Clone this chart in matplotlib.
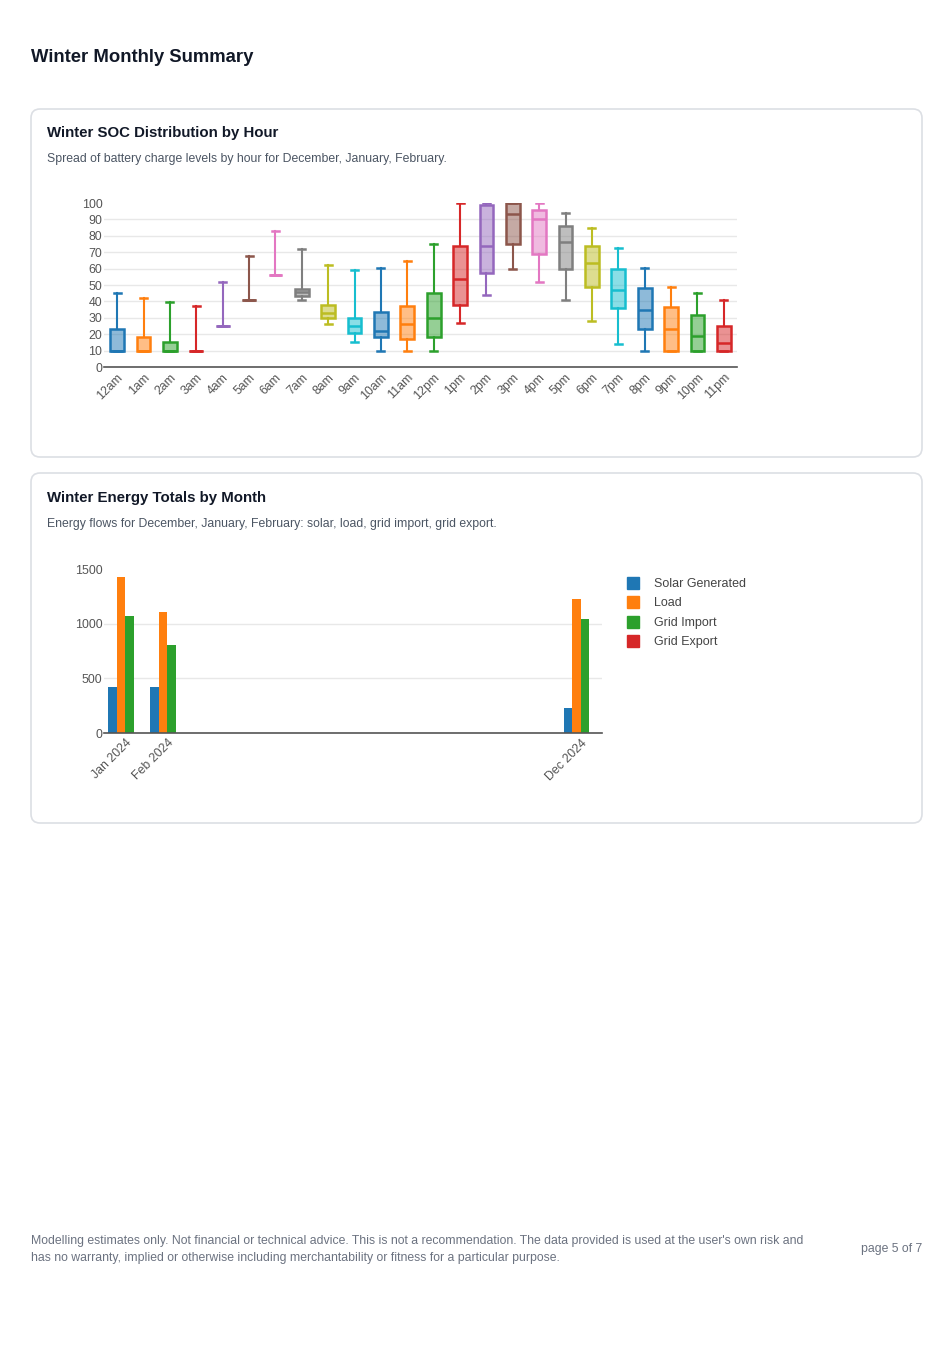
import matplotlib
matplotlib.use("Agg")
import matplotlib.pyplot as plt
import matplotlib.transforms as mtransforms
from matplotlib.patches import FancyBboxPatch
from matplotlib.lines import Line2D
import numpy as np

plt.rcParams["font.family"] = ["Liberation Sans", "DejaVu Sans"]

# --- SOC box plot data (winter, by hour) ---
hours = ["12am", "1am", "2am", "3am", "4am", "5am", "6am", "7am", "8am", "9am",
         "10am", "11am", "12pm", "1pm", "2pm", "3pm", "4pm", "5pm", "6pm", "7pm",
         "8pm", "9pm", "10pm", "11pm"]
soc_min = [10, 10, 10, 10, 25, 41, 56, 41, 26, 15, 10, 10, 10, 27, 44, 60, 52, 41, 28, 14, 10, 10, 10, 10]
soc_q1 = [10, 10, 10, 10, 25, 41, 56, 43, 30, 21, 18.5, 17, 18, 38, 57.5, 75, 69, 59.5, 49, 36, 23, 10, 10, 10]
soc_med = [10, 10, 10, 10, 25, 41, 56, 45.5, 33, 25, 22, 26, 30, 53.5, 74, 93.5, 90, 76.5, 63.5, 47, 34.5, 23, 19, 14.5]
soc_q3 = [23, 18, 15, 10, 25, 41, 56, 47.5, 38, 30, 33.5, 37.5, 45, 73.5, 99, 100, 96, 86, 73.5, 60, 48, 36.5, 31.5, 25]
soc_max = [45, 42, 39.5, 37, 52, 67.5, 83, 72, 62, 59, 60.5, 64.5, 75, 100, 100, 100, 100, 94, 85, 72.5, 60.5, 49, 45, 41]

# --- Monthly energy totals ---
month_labels = ["Jan 2024", "Feb 2024", "Dec 2024"]
month_dates = ["2024-01-01", "2024-02-01", "2024-12-01"]
series_names = ["Solar Generated", "Load", "Grid Import", "Grid Export"]
solar = [420, 418, 229]
load = [1427, 1107, 1228]
grid_import = [1070, 802, 1040]
grid_export = [0, 4, 0]

tab10 = ["#1f77b4", "#ff7f0e", "#2ca02c", "#d62728", "#9467bd",
         "#8c564b", "#e377c2", "#7f7f7f", "#bcbd22", "#17becf"]

W, H = 952, 1348
fig = plt.figure(figsize=(W / 100, H / 100), dpi=100)
fig.patch.set_facecolor("white")
# pixel coordinates, origin top-left
px = mtransforms.Affine2D().scale(1 / 100, -1 / 100).translate(0, H / 100) + fig.dpi_scale_trans


def card(x0, y0, x1, y1):
    p = FancyBboxPatch((x0, y0), x1 - x0, y1 - y0, boxstyle="round,pad=0,rounding_size=9",
                       transform=px, facecolor="white", edgecolor="#dcdfe4", linewidth=1.2,
                       zorder=-1)
    fig.patches.append(p)


fig.text(31, 58, "Winter Monthly Summary", transform=px, fontsize=13.3, fontweight="bold",
         color="#111827", va="center", ha="left")

card(31, 109, 922, 457)
card(31, 473, 922, 823)

fig.text(47, 133, "Winter SOC Distribution by Hour", transform=px, fontsize=10.8,
         fontweight="bold", color="#111827", va="center")
fig.text(47, 159, "Spread of battery charge levels by hour for December, January, February.",
         transform=px, fontsize=8.85, color="#4b5563", va="center")
fig.text(47, 498, "Winter Energy Totals by Month", transform=px, fontsize=10.8,
         fontweight="bold", color="#111827", va="center")
fig.text(47, 524, "Energy flows for December, January, February: solar, load, grid import, grid export.",
         transform=px, fontsize=8.85, color="#4b5563", va="center")

fig.text(31, 1241, "Modelling estimates only. Not financial or technical advice. This is not a recommendation. "
         "The data provided is used at the user's own risk and", transform=px, fontsize=8.85,
         color="#6b7280", va="center")
fig.text(31, 1258, "has no warranty, implied or otherwise including merchantability or fitness for a particular purpose.",
         transform=px, fontsize=8.85, color="#6b7280", va="center")
fig.text(922, 1249, "page 5 of 7", transform=px, fontsize=8.85, color="#6b7280", va="center", ha="right")


def style_axes(ax):
    for s in ["top", "right", "left"]:
        ax.spines[s].set_visible(False)
    ax.spines["bottom"].set_color("#555555")
    ax.spines["bottom"].set_linewidth(1.2)
    ax.tick_params(axis="both", length=0, labelsize=8.9, labelcolor="#555555")
    ax.tick_params(axis="y", pad=1.2)
    ax.tick_params(axis="x", pad=3)
    ax.set_axisbelow(True)
    ax.yaxis.grid(True, color="#e8e8e8", linewidth=1)


# ---- box plot ----
ax1 = fig.add_axes([104 / W, 1 - 367 / H, 633 / W, 164 / H])
stats = []
for i in range(len(hours)):
    stats.append({"whislo": soc_min[i], "q1": soc_q1[i], "med": soc_med[i],
                  "q3": soc_q3[i], "whishi": soc_max[i], "label": hours[i]})
bp = ax1.bxp(stats, positions=np.arange(len(hours)), widths=0.52, capwidths=0.27,
             patch_artist=True, showfliers=False)
for i, box in enumerate(bp["boxes"]):
    c = tab10[i % 10]
    box.set_facecolor(matplotlib.colors.to_rgba(c, 0.5))
    box.set_edgecolor(c)
    box.set_linewidth(1.8)
    bp["medians"][i].set_color(c)
    bp["medians"][i].set_linewidth(1.8)
    for k in (2 * i, 2 * i + 1):
        bp["whiskers"][k].set_color(c)
        bp["whiskers"][k].set_linewidth(1.5)
        bp["caps"][k].set_color(c)
        bp["caps"][k].set_linewidth(1.8)
ax1.set_xlim(-0.5, len(hours) - 0.5)
ax1.set_ylim(0, 100)
ax1.set_yticks(np.arange(0, 101, 10))
ax1.set_xticks(np.arange(len(hours)))
ax1.set_xticklabels(hours, rotation=45, ha="right", rotation_mode="anchor")
style_axes(ax1)
ax1.get_ygridlines()[-1].set_visible(False)

# ---- bar chart ----
ax2 = fig.add_axes([104 / W, 1 - 733 / H, 498 / W, 164 / H])
day = np.array(month_dates, dtype="datetime64[D]")
xd = (day - day[0]).astype(float)
bw = 6.25
for j, vals in enumerate([solar, load, grid_import, grid_export]):
    ax2.bar(xd + (j - 1.5) * bw, vals, width=bw, color=tab10[j], label=series_names[j])
ax2.set_xlim(xd[0] - 15.5, xd[-1] + 15.5)
ax2.set_ylim(0, 1500)
ax2.set_yticks([0, 500, 1000, 1500])
ax2.set_xticks(xd)
ax2.set_xticklabels(month_labels, rotation=45, ha="right", rotation_mode="anchor")
style_axes(ax2)
ax2.get_ygridlines()[-1].set_visible(False)

handles = [Line2D([], [], marker="s", linestyle="none", markersize=9, color=tab10[j])
           for j in range(4)]
leg = fig.legend(handles, series_names, loc="upper left", bbox_to_anchor=(627 / W, 1 - 578 / H),
                 frameon=False, fontsize=9, handlelength=1.0, handletextpad=1.15,
                 labelspacing=0.6, borderpad=0, borderaxespad=0)
for t in leg.get_texts():
    t.set_color("#444444")

fig.savefig("out.png", dpi=100)
